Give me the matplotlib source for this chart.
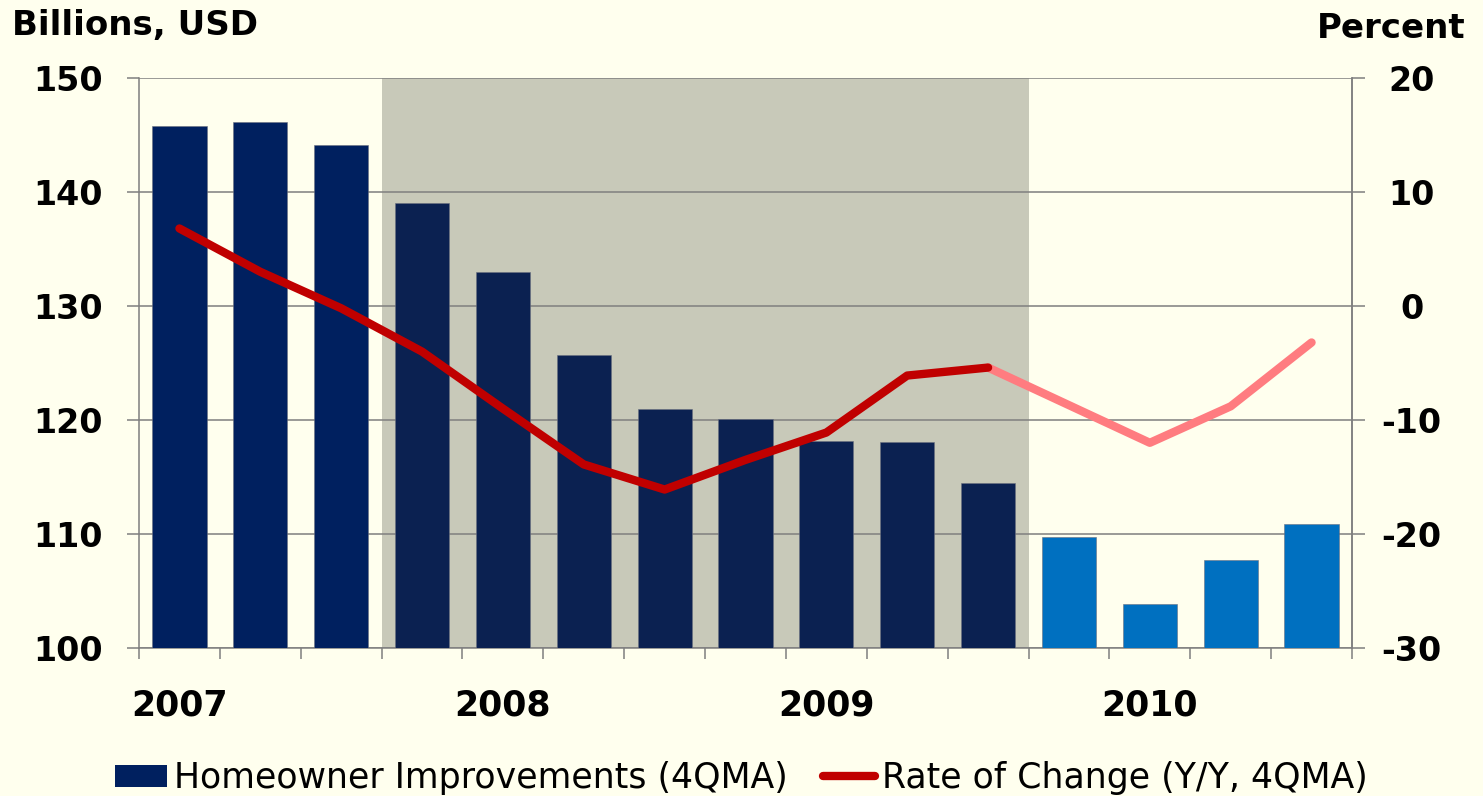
import matplotlib
matplotlib.use("Agg")
import matplotlib.pyplot as plt
from matplotlib.patches import Patch
from matplotlib.lines import Line2D

# ---- data ----
quarters = ["2007Q1", "2007Q2", "2007Q3", "2007Q4", "2008Q1", "2008Q2", "2008Q3", "2008Q4",
            "2009Q1", "2009Q2", "2009Q3", "2009Q4", "2010Q1", "2010Q2", "2010Q3"]
improvements = [145.8, 146.1, 144.1, 139.0, 133.0, 125.7, 121.0, 120.1,
                118.2, 118.1, 114.5, 109.7, 103.9, 107.7, 110.9]
rate_of_change = [6.8, 3.0, -0.2, -4.0, -9.0, -13.9, -16.1, -13.5,
                  -11.1, -6.1, -5.4, -8.7, -12.0, -8.8, -3.2]
year_labels = ["2007", "2008", "2009", "2010"]
year_positions = [0, 4, 8, 12]
left_ticks = [100, 110, 120, 130, 140, 150]
right_ticks = [-30, -20, -10, 0, 10, 20]
recession_start, recession_end = 3, 10   # shaded quarters (inclusive)
forecast_start = 11                      # first projected quarter

bg = "#FFFFEE"
navy = "#00205F"
navy_rec = "#0B2151"
light_blue = "#0070C0"
shade = "#C8C9B9"
red = "#C00000"
pink = "#FF7C80"
grid_c = "#7F7F7F"

plt.rcParams['font.family'] = ['DejaVu Sans']

fig = plt.figure(figsize=(14.83, 7.96), dpi=100, facecolor=bg)
ax = fig.add_axes([139/1483, 1-648/796, (1352-139)/1483, (648-78)/796])
ax.set_facecolor(bg)

n = len(quarters)
x = list(range(n))

ax.axvspan(recession_start - 0.5, recession_end + 0.5, color=shade, zorder=0, lw=0)

colors = []
for i in x:
    if i >= forecast_start:
        colors.append(light_blue)
    elif recession_start <= i <= recession_end:
        colors.append(navy_rec)
    else:
        colors.append(navy)
ax.bar(x, [v - 100 for v in improvements], bottom=100, width=0.67, color=colors,
       edgecolor="#6A7080", linewidth=0.4, zorder=3)

ax.set_xlim(-0.5, n - 0.5)
ax.set_ylim(100, 150)
ax.set_yticks(left_ticks)
ax.yaxis.grid(True, color=grid_c, linewidth=1.1, zorder=1)
ax.set_axisbelow(True)

ax.set_xticks([i - 0.5 for i in range(n + 1)])
ax.set_xticklabels([])
ax.set_xticks(year_positions, minor=True)
ax.set_xticklabels(year_labels, minor=True, fontsize=25, fontweight='bold')
ax.tick_params(axis='x', which='major', length=8, width=1.1, color=grid_c)
ax.tick_params(axis='x', which='minor', length=0, pad=29)
ax.tick_params(axis='y', length=9, width=1.1, color=grid_c, pad=17, labelsize=24)
for lab in ax.get_yticklabels():
    lab.set_fontweight('bold')

for s in ['top']:
    ax.spines[s].set_visible(False)
for s in ['left', 'right', 'bottom']:
    ax.spines[s].set_color(grid_c)
    ax.spines[s].set_linewidth(1.1)

ax2 = ax.twinx()
ax2.set_ylim(-30, 20)
ax2.set_yticks(right_ticks)
ax2.set_yticklabels([str(v) for v in right_ticks], fontsize=24, fontweight='bold', ha='center')
ax2.tick_params(axis='y', length=9, width=1.1, color=grid_c, pad=34)
for s in ['top', 'left', 'bottom']:
    ax2.spines[s].set_visible(False)
ax2.spines['right'].set_color(grid_c)
ax2.spines['right'].set_linewidth(1.1)

k = forecast_start - 1
ax2.plot(x[k:], rate_of_change[k:], color=pink, lw=6, solid_capstyle='round',
         solid_joinstyle='round', zorder=4)
ax2.plot(x[:k + 1], rate_of_change[:k + 1], color=red, lw=6, solid_capstyle='round',
         solid_joinstyle='round', zorder=5)

fig.text(12/1483, 1-26/796, "Billions, USD", fontsize=24.5, fontweight='bold',
         ha='left', va='center')
fig.text(1465/1483, 1-28/796, "Percent", fontsize=24.5, fontweight='bold',
         ha='right', va='center')

handles = [Patch(facecolor=navy, edgecolor='none'),
           Line2D([0], [0], color=red, lw=6, solid_capstyle='round')]
fig.legend(handles, ["Homeowner Improvements (4QMA)", "Rate of Change (Y/Y, 4QMA)"],
           loc='center', bbox_to_anchor=(0.5, 1-778/796), ncol=2, frameon=False,
           fontsize=25, handlelength=1.5, handleheight=0.6, handletextpad=0.2,
           columnspacing=1.0)

fig.savefig("out.png", dpi=100, facecolor=bg)
